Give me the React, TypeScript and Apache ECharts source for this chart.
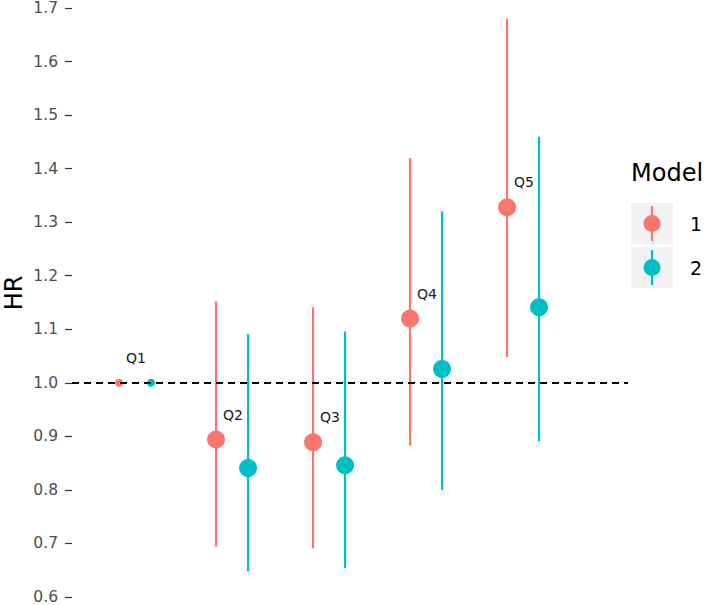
import React, { useEffect, useRef } from "react";
import * as echarts from "echarts";

const quintiles = ["Q1", "Q2", "Q3", "Q4", "Q5"];
const hr1 = [1.0, 0.894, 0.889, 1.12, 1.328];
const lo1 = [1.0, 0.694, 0.691, 0.883, 1.048];
const hi1 = [1.0, 1.152, 1.141, 1.42, 1.68];
const hr2 = [1.0, 0.841, 0.846, 1.026, 1.141];
const lo2 = [1.0, 0.648, 0.654, 0.8, 0.891];
const hi2 = [1.0, 1.091, 1.096, 1.32, 1.459];
const pointSizes = [8, 18, 18, 18, 18];
const modelNames = ["1", "2"];
const colors = ["#F8766D", "#00BFC4"];
const refLine = 1.0;
const yMin = 0.6;
const yMax = 1.7;
const yStep = 0.1;

const FONT = "DejaVu Sans";
const DODGE = 0.165;

export default function App() {
  const ref = useRef<HTMLDivElement>(null);
  useEffect(() => {
    if (!ref.current) return;
    const chart = echarts.init(ref.current, undefined, { renderer: "svg" });

    const models = [
      { hr: hr1, lo: lo1, hi: hi1, off: -DODGE },
      { hr: hr2, lo: lo2, hi: hi2, off: DODGE },
    ];

    const series: any[] = [];
    models.forEach((m, mi) => {
      series.push({
        type: "custom",
        name: modelNames[mi] + "-ci",
        z: 1,
        silent: true,
        data: quintiles.map((_, i) => [i + 1 + m.off, m.lo[i], m.hi[i]]),
        renderItem: (params: any, api: any) => {
          const x = api.value(0);
          const p1 = api.coord([x, api.value(1)]);
          const p2 = api.coord([x, api.value(2)]);
          return {
            type: "line",
            shape: { x1: p1[0], y1: p1[1], x2: p2[0], y2: p2[1] },
            style: { stroke: colors[mi], lineWidth: 2.2 },
          };
        },
      });
    });

    series.push({
      type: "line",
      name: "ref",
      z: 2,
      data: [],
      markLine: {
        silent: true,
        symbol: "none",
        label: { show: false },
        lineStyle: { color: "#000", type: [7, 5], width: 2 },
        data: [{ yAxis: refLine }],
      },
    });

    models.forEach((m, mi) => {
      series.push({
        type: "scatter",
        name: modelNames[mi],
        z: 3,
        data: quintiles.map((q, i) => ({
          value: [i + 1 + m.off, m.hr[i]],
          symbolSize: pointSizes[i],
          label:
            mi === 0
              ? {
                  show: true,
                  formatter: q,
                  position: "inside",
                  offset: [17, -25],
                  color: "#1a1a1a",
                  fontSize: 14,
                  fontFamily: FONT,
                }
              : { show: false },
        })),
        itemStyle: { color: colors[mi], opacity: 1 },
      });
    });

    const legendGraphics: any[] = [
      {
        type: "text",
        left: 631,
        top: 161,
        style: { text: "Model", fontSize: 24, fontFamily: FONT, fill: "#000" },
      },
    ];
    modelNames.forEach((name, i) => {
      const y0 = 203 + i * 44;
      legendGraphics.push(
        { type: "rect", shape: { x: 631, y: y0, width: 42, height: 41 }, style: { fill: "#f2f2f2" } },
        { type: "line", shape: { x1: 652, y1: y0 + 3, x2: 652, y2: y0 + 38 }, style: { stroke: colors[i], lineWidth: 2.2 } },
        { type: "circle", shape: { cx: 652, cy: y0 + 20.5, r: 8.5 }, style: { fill: colors[i] } },
        {
          type: "text",
          x: 690,
          y: y0 + 21,
          style: { text: name, fontSize: 19, fontFamily: FONT, fill: "#000", verticalAlign: "middle" },
        }
      );
    });

    chart.setOption({
      animation: false,
      backgroundColor: "#fff",
      grid: { left: 72, right: 81, top: 5, bottom: 6 },
      xAxis: {
        type: "value",
        min: 0.35,
        max: 6.082,
        show: false,
      },
      yAxis: {
        type: "value",
        min: yMin,
        max: yMax,
        interval: yStep,
        axisLine: { show: false },
        axisTick: { show: true, length: 7, lineStyle: { color: "#333", width: 1.2 } },
        axisLabel: {
          color: "#4d4d4d",
          fontSize: 15.5,
          fontFamily: FONT,
          margin: 14,
          formatter: (v: number) => v.toFixed(1),
        },
        splitLine: { show: false },
      },
      graphic: [
        {
          type: "text",
          x: 14,
          y: 293,
          rotation: Math.PI / 2,
          style: {
            text: "HR",
            fontSize: 24,
            fontFamily: FONT,
            fill: "#000",
            align: "center",
            verticalAlign: "middle",
          },
        },
        ...legendGraphics,
      ],
      series,
    });
    return () => chart.dispose();
  }, []);
  return <div ref={ref} style={{ width: 709, height: 605, position: "absolute", left: 0, top: 0 }} />;
}
